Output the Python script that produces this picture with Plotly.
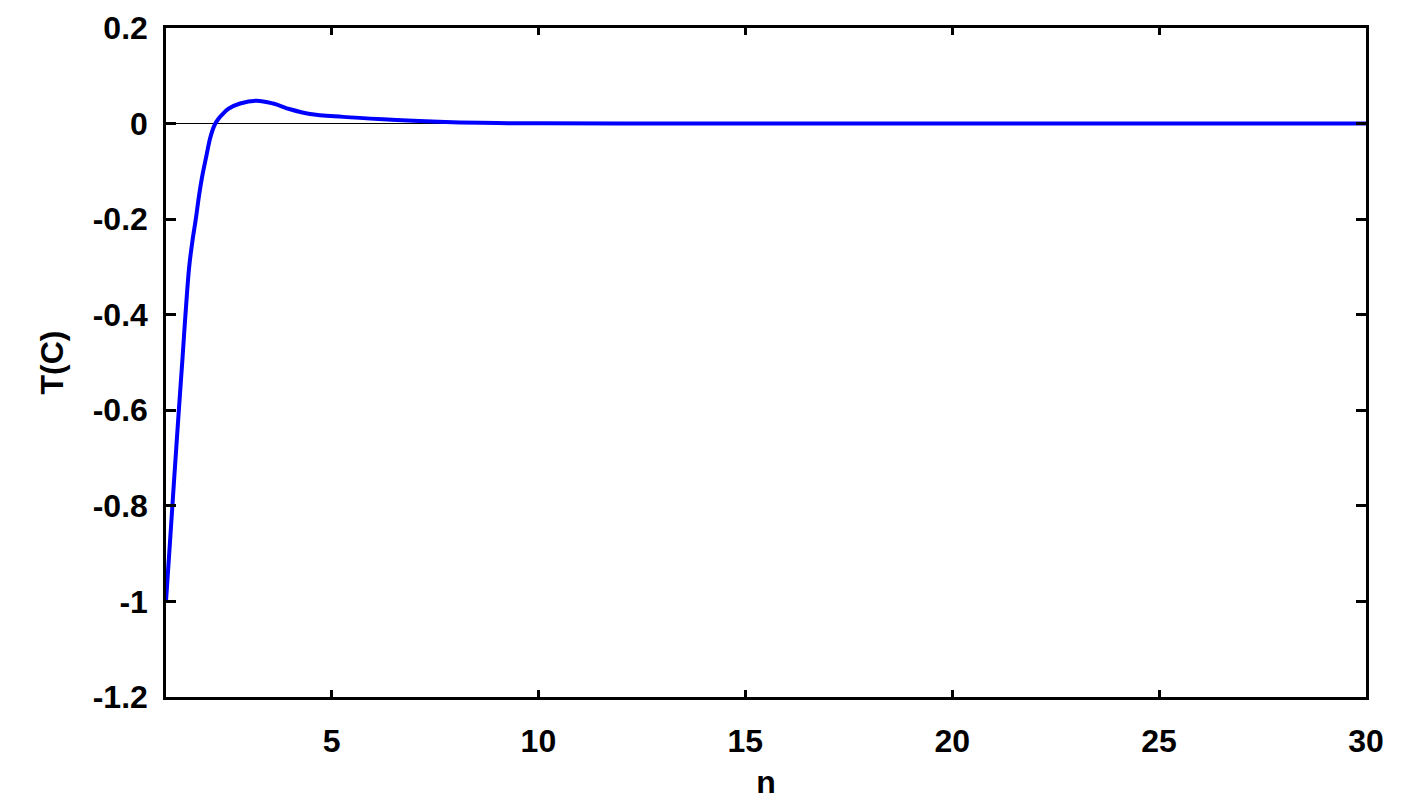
import plotly.graph_objects as go

n_vals = [1.0, 1.11, 1.2, 1.31, 1.40, 1.47, 1.56, 1.64, 1.72, 1.80, 1.88, 1.98, 2.06,
          2.12, 2.18, 2.26, 2.35, 2.51, 2.79, 3.19, 3.59, 4.0, 4.48, 5.28, 6.24, 6.97,
          8.1, 9.0, 10.0, 12.0, 15.0, 20.0, 25.0, 30.0]
t_vals = [-1.0, -0.858, -0.74, -0.60, -0.49, -0.40, -0.30, -0.245, -0.20, -0.15, -0.108,
          -0.066, -0.033, -0.015, -0.002, 0.009, 0.018, 0.031, 0.042, 0.048, 0.042, 0.030,
          0.020, 0.014, 0.009, 0.006, 0.0025, 0.001, 0.0005, 0.0, 0.0, 0.0, 0.0, 0.0]

x_ticks = [5, 10, 15, 20, 25, 30]
y_ticks = [0.2, 0, -0.2, -0.4, -0.6, -0.8, -1, -1.2]
y_tick_text = ["0.2", "0", "-0.2", "-0.4", "-0.6", "-0.8", "-1", "-1.2"]

fam = "Liberation Sans, Arial, sans-serif"

fig = go.Figure()
fig.add_trace(go.Scatter(x=n_vals, y=t_vals, mode="lines", cliponaxis=False,
                         line=dict(color="#0000FF", width=4, shape="spline", smoothing=1.0),
                         showlegend=False))

# page body has an 8px margin, so the figure is sized / offset to compensate
fig.update_layout(
    width=1416, height=792,
    margin=dict(l=158, r=58, t=20, b=103, autoexpand=False),
    paper_bgcolor="white", plot_bgcolor="white",
    font=dict(family=fam, size=32, color="black"),
)
fig.update_xaxes(
    range=[1, 30], tickvals=x_ticks, ticktext=[str(v) for v in x_ticks],
    ticks="inside", ticklen=7, tickwidth=2.5, tickcolor="black",
    showline=True, linecolor="black", linewidth=2.5, mirror="ticks",
    showgrid=False, zeroline=False,
    tickfont=dict(family=fam, size=32, color="black", weight="bold"),
    ticklabelstandoff=14,
    title=dict(text="<b>n</b>", font=dict(family=fam, size=32, color="black"), standoff=16),
)
fig.update_yaxes(
    range=[-1.2, 0.2], tickvals=y_ticks, ticktext=y_tick_text,
    ticks="inside", ticklen=10, tickwidth=2.5, tickcolor="black",
    showline=True, linecolor="black", linewidth=2.5, mirror="ticks",
    showgrid=False, zeroline=True, zerolinecolor="black", zerolinewidth=1,
    tickfont=dict(family=fam, size=32, color="black", weight="bold"),
    ticklabelstandoff=9,
    title=dict(text="<b>T(C)</b>", font=dict(family=fam, size=32, color="black"), standoff=20),
)

fig.write_html("out.html")
